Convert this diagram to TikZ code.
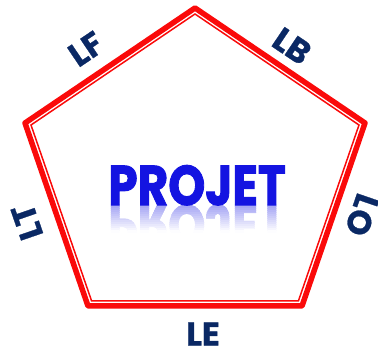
\documentclass[tikz,border=0pt]{standalone}
\usepackage{fontspec}
\usepackage{graphicx}
\newfontfamily\labfont{Poppins}[BoldFeatures={FakeBold=0.8}]
\newfontfamily\titlefont{Poppins}[BoldFeatures={FakeBold=1.8}]
\definecolor{navy}{RGB}{10,40,100}
\definecolor{pred}{RGB}{250,10,10}
\definecolor{pblue}{RGB}{20,20,225}
\begin{document}
\begin{tikzpicture}[x=1pt,y=1pt,
  lab/.style={text=navy,font=\labfont\bfseries\fontsize{33}{33}\selectfont,inner sep=0pt},
  outerline/.style={draw=pred,line width=5.5pt,line join=round},
  innerline/.style={draw=pred,line width=1.5pt,line join=miter},
  title/.style={font=\titlefont\bfseries\fontsize{56}{56}\selectfont,inner sep=0pt,anchor=base,xscale=0.84}]
\useasboundingbox (0,0) rectangle (378,351);
% outer pentagon
\coordinate (T) at (195,343);
\coordinate (R) at (365,228);
\coordinate (BR) at (302,45);
\coordinate (BL) at (88,45);
\coordinate (L) at (25,228);
\draw[outerline] (T) -- (R) -- (BR) -- (BL) -- (L) -- cycle;
% inner pentagon
\coordinate (iT) at (195,337);
\coordinate (iR) at (359,226);
\coordinate (iBR) at (298.4,50);
\coordinate (iBL) at (91.6,50);
\coordinate (iL) at (31,226);
\draw[innerline] (iT) -- (iR) -- (iBR) -- (iBL) -- (iL) -- cycle;
% labels
\node[lab,rotate=34] (lf) at (86,302) {LF};
\node[lab,rotate=-34] (lb) at (292,305) {LB};
\node[lab,rotate=109] (lt) at (27,129) {LT};
\node[lab,rotate=-109] (lo) at (362,136) {LO};
\node[lab] (le) at (203,17) {LE};
% reflection
\foreach \i in {0,...,13}{
  \pgfmathsetmacro{\ya}{146-2*\i}
  \pgfmathsetmacro{\yb}{144-2*\i}
  \pgfmathsetmacro{\shade}{40-3*\i}
  \begin{scope}
    \clip (100,\yb) rectangle (300,\ya);
    \node[title,text=pblue!\shade] at (197,146) {\scalebox{1}[-1]{PROJET}};
  \end{scope}
}
% title
\node[title,text=pblue] (pj) at (197,146) {PROJET};
\end{tikzpicture}
\end{document}
